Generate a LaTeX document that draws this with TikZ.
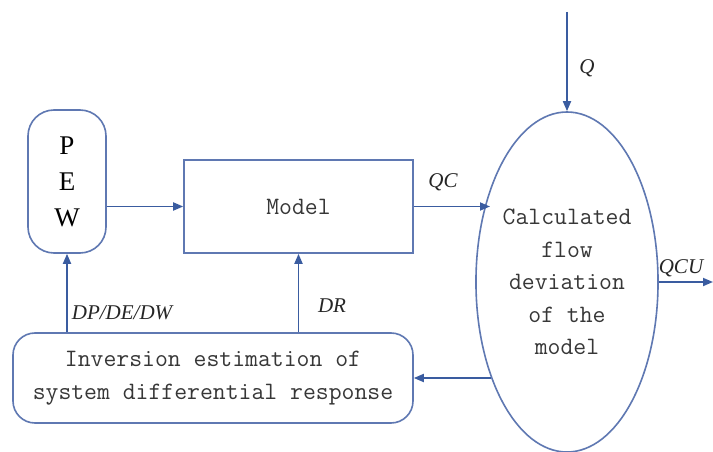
\documentclass[tikz,border=0pt]{standalone}
\usepackage{fontspec}
\setmainfont{Liberation Serif}
\usetikzlibrary{shapes.geometric,arrows.meta}
\definecolor{lineblue}{RGB}{58,92,160}
\definecolor{boxblue}{RGB}{95,120,178}
\definecolor{txtgray}{RGB}{55,55,55}
\tikzset{
  arr/.style={draw=lineblue,line width=1.7pt,-{Triangle[length=10pt,width=8pt]}},
  ln/.style={draw=boxblue,line width=1.6pt},
  boxtxt/.style={font=\ttfamily\fontsize{25}{32.5}\selectfont,text=txtgray,align=center,inner sep=0pt},
  lbl/.style={font=\itshape\fontsize{21}{24}\selectfont,text=black!85,inner sep=0pt}
}
\begin{document}
\begin{tikzpicture}[x=1pt,y=-1pt]
\useasboundingbox (0,0) rectangle (713,452);
\fill[white] (0,0) rectangle (713,452);
% nodes
\node[ln,rounded corners=26pt,minimum width=78pt,minimum height=143pt,inner sep=0pt,
  font=\fontsize{27}{36}\selectfont,align=center] (pew) at (67,181.5) {P\\E\\W};
\node[ln,minimum width=229pt,minimum height=93pt,boxtxt] (model) at (298.5,206.5) {Model};
\node[ln,ellipse,minimum width=170pt,minimum height=340pt,boxtxt] (ell) at (567,282)
  {Calculated\\flow\\deviation\\of the\\model};
\node[ln,rounded corners=22pt,minimum width=400pt,minimum height=90pt,boxtxt] (inv) at (213,378)
  {Inversion estimation of\\system differential response};
% free ends
\coordinate (qtop) at (567,12);
\coordinate (qcend) at (490,206.5);
\coordinate (qcu) at (713,282);
\coordinate (fbstart) at (491,378);
% connectors
\draw[arr] (pew.east |- model.west) -- (model.west);
\draw[arr] (model.east) -- (qcend);
\draw[arr] (qtop) -- (ell.north);
\draw[arr] (ell.east) -- (qcu);
\draw[arr] (fbstart) -- (inv.east);
\draw[arr] (inv.north -| pew.south) -- (pew.south);
\draw[arr] (inv.north -| model.south) -- (model.south);
% labels
\node[lbl] (lq) at (587,68) {Q};
\node[lbl] (lqc) at (443,182) {QC};
\node[lbl] (lqcu) at (681,268) {QCU};
\node[lbl] (ldp) at (122,313) {DP/DE/DW};
\node[lbl] (ldr) at (332,306) {DR};
\end{tikzpicture}
\end{document}
